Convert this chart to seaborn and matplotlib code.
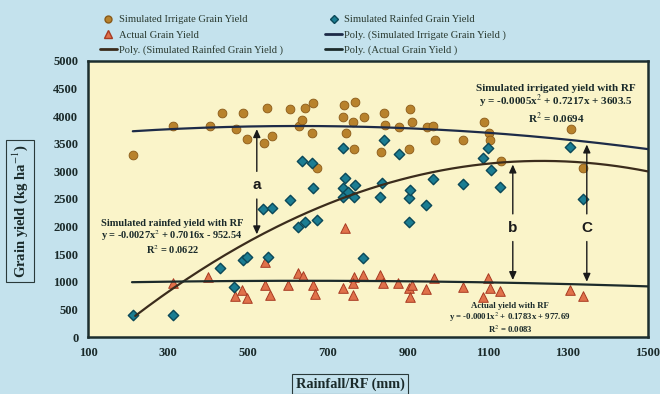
import numpy as np
import pandas as pd
import matplotlib
matplotlib.use("Agg")
import matplotlib.pyplot as plt
import seaborn as sns
from matplotlib.lines import Line2D

# ---- data ----
irr_rf = [212, 313, 405, 435, 470, 488, 498, 540, 548, 560, 605, 628, 635, 643, 660, 663, 673,
          740, 738, 745, 763, 765, 768, 790, 833, 840, 843, 878, 903, 905, 910, 948, 963, 968,
          1038, 1090, 1103, 1105, 1133, 1308, 1338]
irr_yield = [3300, 3820, 3820, 4060, 3770, 4060, 3590, 3510, 4150, 3640, 4130, 3820, 3930, 4150, 3700, 4240, 3060,
             4200, 3990, 3700, 3900, 3410, 4260, 3990, 3350, 4060, 3840, 3800, 3410, 4130, 3900, 3800, 3820, 3570,
             3570, 3900, 3700, 3560, 3190, 3770, 3060]

rain_rf = [213, 313, 430, 465, 488, 498, 538, 550, 560, 605, 625, 635, 643, 660, 663, 673,
           738, 738, 738, 743, 750, 765, 768, 788, 830, 835, 840, 878, 903, 903, 905, 945, 963,
           1038, 1088, 1100, 1108, 1130, 1305, 1338]
rain_yield = [400, 400, 1250, 900, 1400, 1450, 2320, 1450, 2340, 2480, 2000, 3180, 2080, 3150, 2700, 2120,
              3420, 2700, 2540, 2880, 2630, 2540, 2750, 1430, 2540, 2790, 3560, 3320, 2080, 2520, 2660, 2390, 2870,
              2780, 3240, 3420, 3030, 2720, 3440, 2500]

act_rf = [313, 400, 468, 485, 498, 543, 543, 555, 600, 625, 638, 663, 668, 738, 743, 763, 765, 763,
          788, 830, 838, 875, 903, 905, 910, 945, 965, 1038, 1088, 1100, 1105, 1130, 1305, 1338]
act_yield = [980, 1090, 740, 850, 710, 940, 1360, 760, 940, 1160, 1100, 940, 780, 890, 1980, 760, 1090, 980,
             1120, 1120, 980, 980, 890, 730, 940, 870, 1070, 910, 730, 1070, 890, 830, 850, 740]

# trend curves as drawn in the picture
irr_trend_rf = [212, 700, 1100, 1500]
irr_trend_y = [3730, 3810, 3710, 3400]
rain_trend_rf = [218, 525, 838, 1038, 1162, 1500]
rain_trend_y = [362, 1850, 2790, 3080, 3116, 3025]
act_trend_rf = [210, 880, 1348, 1500]
act_trend_y = [995, 1000, 975, 900]

x_ticks = [100, 300, 500, 700, 900, 1100, 1300, 1500]
y_ticks = [0, 500, 1000, 1500, 2000, 2500, 3000, 3500, 4000, 4500, 5000]

irr_label = "Simulated Irrigate Grain Yield"
rain_label = "Simulated Rainfed Grain Yield"
act_label = "Actual Grain Yield"
poly_rain_label = "Poly. (Simulated Rainfed Grain Yield )"
poly_irr_label = "Poly. (Simulated Irrigate Grain Yield )"
poly_act_label = "Poly. (Actual Grain Yield )"

eq_irr = "Simulated irrigated yield with RF\ny = -0.0005x$^2$ + 0.7217x + 3603.5\nR$^2$ = 0.0694"
eq_rain = "Simulated rainfed yield with RF\ny = -0.0027x$^2$ + 0.7016x - 952.54\nR$^2$ = 0.0622"
eq_act = "Actual yield with RF\ny = -0.0001x$^2$ + 0.1783x + 977.69\nR$^2$ = 0.0083"

# ---- style ----
sns.set_theme(style="white")
plt.rcParams['font.family'] = ['Liberation Serif', 'DejaVu Serif']
plt.rcParams['mathtext.fontset'] = 'stix'

fig_bg = "#c4e2ed"
ax_bg = "#faf4c9"
c_irr = "#b8822c"
c_rain = "#1b7d92"
c_act = "#e0714a"
txt_c = "#1a2a2a"

fig = plt.figure(figsize=(6.6, 3.94), dpi=100)
fig.patch.set_facecolor(fig_bg)
ax = fig.add_axes([88/660, 1-337/394, (648-88)/660, (337-61)/394])
ax.set_facecolor(ax_bg)

df_irr = pd.DataFrame({"rf": irr_rf, "y": irr_yield})
df_rain = pd.DataFrame({"rf": rain_rf, "y": rain_yield})
df_act = pd.DataFrame({"rf": act_rf, "y": act_yield})

sns.scatterplot(data=df_irr, x="rf", y="y", ax=ax, marker="o", s=40, color=c_irr,
                edgecolor="#8a5a18", linewidth=0.6, zorder=3)
sns.scatterplot(data=df_rain, x="rf", y="y", ax=ax, marker="D", s=28, color=c_rain,
                edgecolor="#0b4858", linewidth=1.0, zorder=4)
sns.scatterplot(data=df_act, x="rf", y="y", ax=ax, marker="^", s=48, color=c_act,
                edgecolor="#a83a22", linewidth=0.7, zorder=3)

# polynomial (order 2) trend lines through the curve values
def poly_line(xs_read, ys_read, color, lw=1.6):
    coef = np.polyfit(xs_read, ys_read, 2)
    xs = np.linspace(min(xs_read), max(xs_read), 200)
    line = pd.DataFrame({"rf": xs, "y": np.polyval(coef, xs)})
    sns.lineplot(data=line, x="rf", y="y", ax=ax, color=color, lw=lw, zorder=5)
    return coef

c_irr_line = "#1d2b48"
c_rain_line = "#3b2c1c"
c_act_line = "#1c2b2b"
coef_irr = poly_line(irr_trend_rf, irr_trend_y, c_irr_line)
coef_rain = poly_line(rain_trend_rf, rain_trend_y, c_rain_line)
coef_act = poly_line(act_trend_rf, act_trend_y, c_act_line)

ax.set_xlim(100, 1500)
ax.set_ylim(0, 5000)
ax.set_xticks(x_ticks)
ax.set_yticks(y_ticks)
ax.set_xticklabels([str(t) for t in x_ticks], fontsize=9, fontweight="bold", color=txt_c)
ax.set_yticklabels([str(t) for t in y_ticks], fontsize=9, fontweight="bold", color=txt_c)
ax.tick_params(axis="both", length=0, pad=7)
ax.set_xlabel("")
ax.set_ylabel("")
for sp in ax.spines.values():
    sp.set_color("#1c2e2e")
    sp.set_linewidth(1.8)

# axis titles in boxes
fig.text(350/660, 1-384/394, "Rainfall/RF (mm)", ha="center", va="center", fontsize=10.3,
         fontweight="bold", color=txt_c,
         bbox=dict(boxstyle="square,pad=0.25", fc=fig_bg, ec="#2a3a3a", lw=0.8))
fig.text(20/660, 1-211/394, "Grain yield (kg ha$^{-1}$)", ha="center", va="center", fontsize=10.5,
         fontweight="bold", color=txt_c, rotation=90,
         bbox=dict(boxstyle="square,pad=0.3", fc=fig_bg, ec="#2a3a3a", lw=0.8))

# equations
ax.text(1270, 4590, eq_irr, ha="center", va="top", fontsize=8, fontweight="bold",
        color=txt_c, linespacing=1.05, zorder=6)
ax.text(310, 2140, eq_rain, ha="center", va="top", fontsize=7.5, fontweight="bold",
        color=txt_c, linespacing=1.0, zorder=6)
ax.text(1155, 640, eq_act, ha="center", va="top", fontsize=6.3, fontweight="bold",
        color=txt_c, linespacing=1.05, zorder=6)

# gap arrows
def gap_arrow(x, y_top, y_bot, y_label, label):
    akw = dict(arrowstyle="-|>,head_length=0.4,head_width=0.18", color="#1a1a1a", lw=1.0)
    ax.annotate("", xy=(x, y_top), xytext=(x, y_label + 200), arrowprops=akw, zorder=6)
    ax.annotate("", xy=(x, y_bot), xytext=(x, y_label - 200), arrowprops=akw, zorder=6)
    ax.text(x, y_label, label, ha="center", va="center", fontsize=11, fontweight="bold",
            family=["Liberation Sans", "DejaVu Sans"], color="#1a1a1a", zorder=6)

xa, xb, xc = 522, 1162, 1347
gap_arrow(xa, np.polyval(coef_irr, xa), np.polyval(coef_rain, xa), 2750, "a")
gap_arrow(xb, np.polyval(coef_rain, xb), np.polyval(coef_act, xb), 1980, "b")
gap_arrow(xc, np.polyval(coef_irr, xc), np.polyval(coef_act, xc), 1980, "C")

# legend
handles = [
    Line2D([], [], ls="", marker="o", ms=5, mfc=c_irr, mec="#8a5a18"),
    Line2D([], [], ls="", marker="^", ms=6, mfc=c_act, mec="#a83a22"),
    Line2D([], [], color=c_rain_line, lw=2),
    Line2D([], [], ls="", marker="D", ms=4, mfc=c_rain, mec="#0b4858"),
    Line2D([], [], color=c_irr_line, lw=2),
    Line2D([], [], color=c_act_line, lw=2),
]
labels = [irr_label, act_label, poly_rain_label, rain_label, poly_irr_label, poly_act_label]
leg = fig.legend(handles, labels, ncol=2, loc="upper left", bbox_to_anchor=(100/660, 1-15/394),
                 frameon=False, fontsize=7.6, handlelength=1.6, handletextpad=0.2,
                 labelspacing=0.55, columnspacing=4.0, borderaxespad=0, borderpad=0)
for t in leg.get_texts():
    t.set_color("#2a3a30")

fig.savefig("out.png", dpi=100, facecolor=fig.get_facecolor())
